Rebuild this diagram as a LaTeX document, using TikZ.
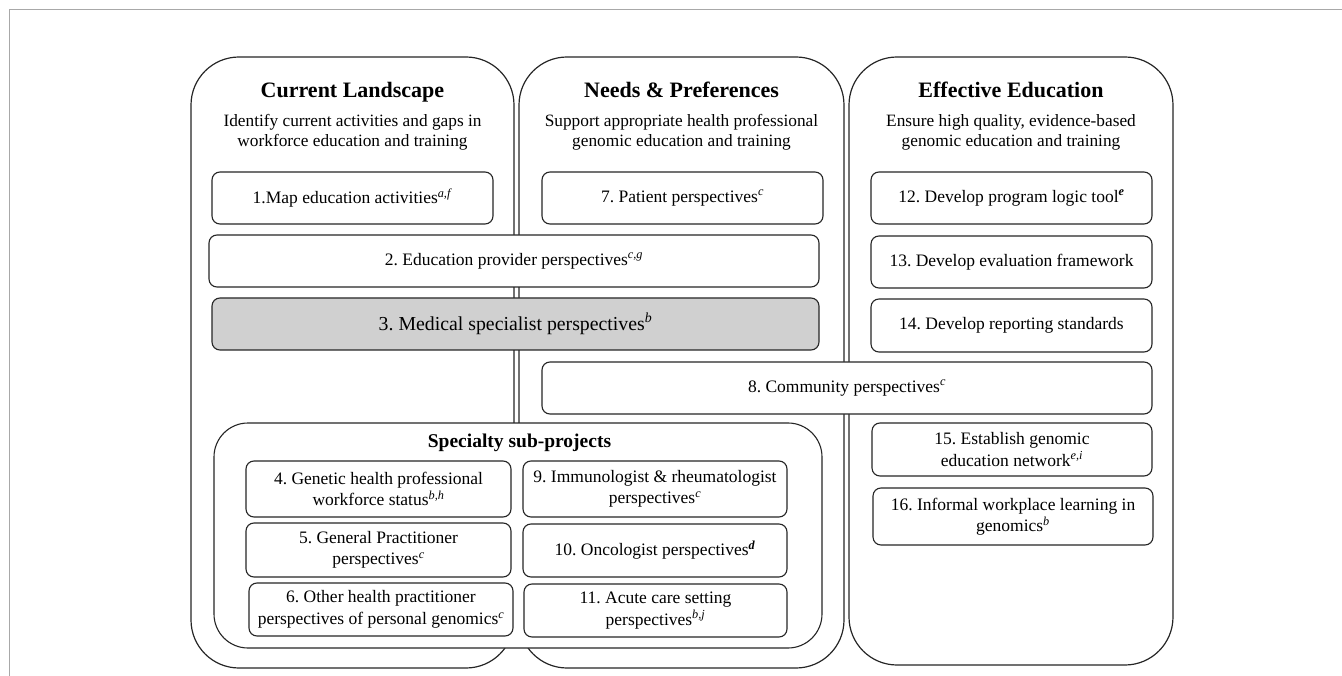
\documentclass[tikz,border=0pt]{standalone}
\usepackage{fontspec}
\setmainfont{Liberation Serif}
\frenchspacing
\definecolor{lineC}{HTML}{262626}
\definecolor{frameC}{HTML}{A8A8A8}
\definecolor{shadeC}{HTML}{D0D0D0}
\newcommand{\sps}[1]{\textsuperscript{\textit{#1}}}
\newcommand{\spb}[1]{\textsuperscript{\textbf{\textit{#1}}}}
\begin{document}
\begin{tikzpicture}[x=1pt,y=-1pt,
  colbox/.style={draw=lineC,line width=1.2pt,fill=white,rounded corners=48pt,inner sep=0pt,outer sep=0pt},
  subbox/.style={draw=lineC,line width=1.1pt,fill=white,rounded corners=34pt,inner sep=0pt,outer sep=0pt},
  itembox/.style={draw=lineC,line width=1.1pt,fill=white,rounded corners=8pt,inner sep=2pt,outer sep=0pt,align=center,font=\fontsize{17.5}{21.5}\selectfont\frenchspacing},
  coltitle/.style={font=\fontsize{22}{26}\selectfont\bfseries,inner sep=0pt,anchor=base},
  colsub/.style={font=\fontsize{17.3}{20}\selectfont\frenchspacing,align=center,inner sep=0pt},
]
\useasboundingbox (0,0) rectangle (1342,676);
% outer frame
\coordinate (fbl) at (9,676);
\coordinate (ftl) at (9,10);
\coordinate (ftr) at (1342,10);
\draw[frameC,line width=1pt] (fbl) -- (ftl) -- (ftr);
% columns
\node[colbox,minimum width=323pt,minimum height=611pt] (col1) at (352.5,362.5) {};
\node[colbox,minimum width=325pt,minimum height=611pt] (col2) at (681.5,362.5) {};
\node[colbox,minimum width=324pt,minimum height=608pt] (col3) at (1011,361) {};
% titles
\node[coltitle] (t1) at (352.5,97.5) {Current Landscape};
\node[coltitle] (t2) at (681.5,97.5) {Needs \& Preferences};
\node[coltitle] (t3) at (1011,97.5) {Effective Education};
\node[colsub] (s1) at (352.5,132.5) {Identify current activities and gaps in\\workforce education and training};
\node[colsub] (s2) at (681.5,132.5) {Support appropriate health professional\\genomic education and training};
\node[colsub] (s3) at (1011,132.5) {Ensure high quality, evidence-based\\genomic education and training};
% items
\node[itembox,minimum width=281pt,minimum height=52pt] (b1) at (352.5,198) {1.Map education activities\sps{a,f}};
\node[itembox,minimum width=281pt,minimum height=52pt] (b7) at (682.5,198) {7. Patient perspectives\sps{c}};
\node[itembox,minimum width=281pt,minimum height=52pt] (b12) at (1011.5,198) {12. Develop program logic tool\spb{e}};
\node[itembox,minimum width=610pt,minimum height=52pt] (b2) at (514,261) {2. Education provider perspectives\sps{c,g}};
\node[itembox,minimum width=281pt,minimum height=52pt] (b13) at (1011.5,262) {13. Develop evaluation framework};
\node[itembox,minimum width=607pt,minimum height=52pt,fill=shadeC,font=\fontsize{19.8}{23}\selectfont\frenchspacing] (b3) at (515.5,324) {3. Medical specialist perspectives\sps{b}};
\node[itembox,minimum width=281pt,minimum height=53pt] (b14) at (1011.5,325.5) {14. Develop reporting standards};
\node[itembox,minimum width=610pt,minimum height=52pt] (b8) at (847,388) {8. Community perspectives\sps{c}};
\node[itembox,minimum width=280pt,minimum height=53pt] (b15) at (1012,449.5) {15. Establish genomic\\education network\sps{e,i}};
\node[itembox,minimum width=280pt,minimum height=57pt] (b16) at (1013,516.5) {16. Informal workplace learning in\\genomics\sps{b}};
% specialty sub-projects
\node[subbox,minimum width=608pt,minimum height=225pt] (spec) at (518,535.5) {};
\node[font=\fontsize{19.5}{23}\selectfont\bfseries,inner sep=0pt] (spect) at (519.5,443) {Specialty sub-projects};
\node[itembox,minimum width=265pt,minimum height=56pt] (b4) at (378.5,489) {4. Genetic health professional\\workforce status\sps{b,h}};
\node[itembox,minimum width=265pt,minimum height=54pt] (b5) at (378.5,550) {5. General Practitioner\\perspectives\sps{c}};
\node[itembox,minimum width=264pt,minimum height=53pt] (b6) at (381,609.5) {6. Other health practitioner\\perspectives of personal genomics\sps{c}};
\node[itembox,minimum width=264pt,minimum height=56pt] (b9) at (655,489) {9. Immunologist \& rheumatologist\\perspectives\sps{c}};
\node[itembox,minimum width=264pt,minimum height=53pt] (b10) at (655,550.5) {10. Oncologist perspectives\spb{d}};
\node[itembox,minimum width=263pt,minimum height=53pt] (b11) at (655.5,610.5) {11. Acute care setting\\perspectives\sps{b,j}};
\end{tikzpicture}
\end{document}
